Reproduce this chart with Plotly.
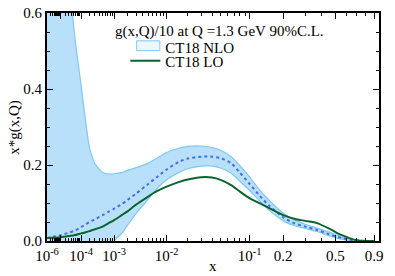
import plotly.graph_objects as go

# ---- data ----
x_vals = [1e-6, 1e-5, 3e-5, 6e-5, 1e-4, 1.5e-4, 2e-4, 2.5e-4, 3e-4, 5e-4, 7e-4, 1e-3, 1.5e-3, 2e-3,
          3e-3, 5e-3, 7e-3, 0.01, 0.015, 0.02, 0.03, 0.04, 0.05, 0.065, 0.08, 0.1,
          0.125, 0.15, 0.2, 0.25, 0.3, 0.37, 0.45, 0.55, 0.63, 0.7, 0.8, 0.9]

nlo_central = [0.008, 0.015, 0.022, 0.028, 0.037, 0.044, 0.050, 0.054, 0.057, 0.068, 0.076, 0.085, 0.097, 0.108,
               0.125, 0.150, 0.168, 0.188, 0.208, 0.217, 0.222, 0.222, 0.218, 0.205, 0.180, 0.150,
               0.118, 0.094, 0.062, 0.046, 0.038, 0.029, 0.018, 0.008, 0.003, 0.001, 0.0, 0.0]

nlo_upper = [3.0, 1.2, 0.70, 0.52, 0.41, 0.31, 0.245, 0.22, 0.203, 0.181, 0.176, 0.177, 0.180, 0.186,
             0.193, 0.205, 0.218, 0.233, 0.244, 0.249, 0.250, 0.246, 0.239, 0.222, 0.198, 0.168,
             0.133, 0.108, 0.073, 0.055, 0.044, 0.034, 0.024, 0.011, 0.005, 0.001, 0.0, 0.0]

nlo_lower = [-0.4, -0.3, -0.25, -0.2, -0.17, -0.145, -0.12, -0.105, -0.09, -0.06, -0.035, 0.0, 0.02, 0.042,
             0.073, 0.110, 0.138, 0.161, 0.180, 0.190, 0.197, 0.197, 0.192, 0.178, 0.157, 0.133,
             0.104, 0.082, 0.053, 0.040, 0.033, 0.025, 0.014, 0.005, 0.001, 0.0, 0.0, 0.0]

lo_central = [0.008, 0.010, 0.013, 0.016, 0.020, 0.023, 0.026, 0.029, 0.031, 0.038, 0.046, 0.055, 0.068, 0.078,
              0.096, 0.117, 0.131, 0.143, 0.155, 0.162, 0.168, 0.167, 0.161, 0.147, 0.130, 0.112,
              0.099, 0.087, 0.068, 0.058, 0.053, 0.047, 0.033, 0.016, 0.007, 0.002, 0.0, 0.0]

major_ticks = [1e-6, 1e-5, 1e-4, 1e-3, 1e-2, 1e-1, 0.2, 0.5, 0.9]
major_labels = ["10<sup>-6</sup>", "", "10<sup>-4</sup>", "10<sup>-3</sup>", "10<sup>-2</sup>",
                "10<sup>-1</sup>", "0.2", "0.5", "0.9"]
y_ticks = [0.0, 0.2, 0.4, 0.6]
y_labels = ["0.0", "0.2", "0.4", "0.6"]

POW = 0.2  # x-axis is drawn on an x^0.2 scale


def tr(v):
    return v ** POW


xt = [tr(v) for v in x_vals]
minor_vals = []
for e in range(-6, 0):
    for m in range(2, 10):
        v = m * 10.0 ** e
        if v not in (0.2, 0.5) and v < 1:
            minor_vals.append(tr(v))

FONT = "Liberation Serif"
band_fill = "rgb(184,224,250)"
band_line = "rgb(125,200,245)"
green = "rgb(10,100,45)"
blue_dot = "rgb(70,110,225)"

fig = go.Figure()
fig.add_trace(go.Scatter(
    x=xt + xt[::-1], y=nlo_upper + nlo_lower[::-1],
    fill="toself", fillcolor=band_fill,
    line=dict(color=band_line, width=1.2, shape="spline", smoothing=0.6),
    mode="lines", showlegend=False, hoverinfo="skip"))
fig.add_trace(go.Scatter(
    x=xt, y=nlo_central, mode="lines",
    line=dict(color=blue_dot, width=2, dash="dot", shape="spline", smoothing=0.6), showlegend=False))
fig.add_trace(go.Scatter(
    x=xt, y=lo_central, mode="lines",
    line=dict(color=green, width=2, shape="spline", smoothing=0.6), name="CT18 LO", legend="legend2"))
# legend text for the NLO band; its swatch is drawn as a small box below
fig.add_trace(go.Scatter(
    x=[None], y=[None], mode="lines", line=dict(color="rgba(0,0,0,0)", width=0),
    name="CT18 NLO", legend="legend", hoverinfo="skip"))

# legend swatch (pale box with light-blue outline)
fig.add_shape(type="rect", xref="paper", yref="paper",
              x0=0.27, x1=0.34, y0=0.835, y1=0.878,
              fillcolor="rgb(238,247,254)", line=dict(color=band_line, width=1))

axis_common = dict(showline=True, linecolor="black", linewidth=2, mirror="allticks",
                   ticks="inside", tickcolor="black", ticklen=6, tickwidth=1,
                   showgrid=False, zeroline=False, automargin=False,
                   tickfont=dict(family=FONT, size=15, color="black"))

fig.update_xaxes(range=[tr(1e-6), 0.993], tickmode="array",
                 tickvals=[tr(v) for v in major_ticks], ticktext=major_labels,
                 minor=dict(tickmode="array", tickvals=minor_vals, ticks="inside",
                            ticklen=3, tickcolor="black", tickwidth=1),
                 **axis_common)
fig.update_yaxes(range=[0, 0.6], tickmode="array", tickvals=y_ticks, ticktext=y_labels,
                 minor=dict(tickmode="array", tickvals=[0.05, 0.1, 0.15, 0.25, 0.3, 0.35, 0.45, 0.5, 0.55],
                            ticks="inside", ticklen=3, tickcolor="black", tickwidth=1),
                 **axis_common)

fig.add_annotation(xref="paper", yref="paper", x=0.2, y=0.921, xanchor="left", yanchor="middle",
                   text="g(x,Q)/10 at Q =1.3 GeV 90%C.L.", showarrow=False,
                   font=dict(family=FONT, size=15, color="black"))
fig.add_annotation(xref="paper", yref="paper", x=0.5, y=-0.108, xanchor="center", yanchor="middle",
                   text="x", showarrow=False, font=dict(family=FONT, size=15, color="black"))
fig.add_annotation(xref="paper", yref="paper", x=-0.1, y=0.5, xanchor="center", yanchor="middle",
                   text="x*g(x,Q)", textangle=-90, showarrow=False,
                   font=dict(family=FONT, size=15, color="black"))

fig.update_layout(
    width=395, height=276,
    margin=dict(l=47, r=16, t=13, b=35),
    paper_bgcolor="white", plot_bgcolor="white",
    font=dict(family=FONT, color="black"),
    legend=dict(x=0.236, y=0.85, xanchor="left", yanchor="middle",
                bgcolor="rgba(0,0,0,0)", font=dict(family=FONT, size=15, color="black"),
                itemwidth=30),
    legend2=dict(x=0.236, y=0.789, xanchor="left", yanchor="middle",
                 bgcolor="rgba(0,0,0,0)", font=dict(family=FONT, size=15, color="black"),
                 itemwidth=30),
)

fig.write_html("out.html", config={"displayModeBar": False},
               post_script="document.body.style.margin='0';document.body.style.padding='0';")
